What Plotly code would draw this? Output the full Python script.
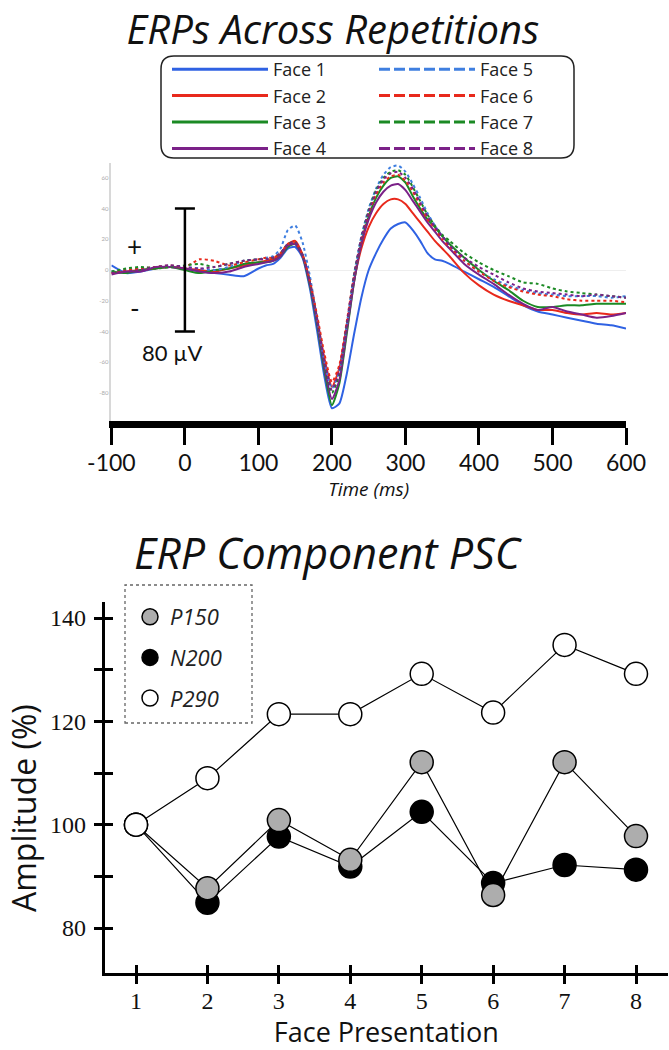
import plotly.graph_objects as go

# ---------------- data: ERP waveforms (µV) ----------------
TIME_MS = [-100, -80, -60, -40, -20, 0, 20, 40, 60, 80, 100,
           110, 120, 130, 140, 150, 160, 170, 180, 190, 200, 210, 220, 230, 240, 250,
           260, 270, 280, 290, 300, 310, 320, 330, 340, 350, 360,
           380, 400, 420, 440, 460, 480, 500, 520, 540, 560, 580, 600]

FACE1 = [3, -2, -1, 1, 2, 1, -1, -2, -3, -4, 1,
         3, 4, 8, 14, 15, 8, -12, -40, -70, -90, -87, -68, -42, -18, 0,
         11, 20, 27, 30, 31, 26, 19, 11, 7, 6, 4,
         -1, -6, -11, -17, -23, -27, -29, -31, -33, -35, -36, -38]
FACE2 = [-2, -1, 0, 1, 2, 1, 0, -1, 1, 3, 5,
         6, 7, 10, 17, 19, 10, -8, -32, -58, -76, -64, -36, -7, 14, 28,
         37, 43, 46, 46, 43, 37, 31, 25, 19, 14, 9,
         -2, -10, -16, -20, -23, -26, -26, -28, -29, -28, -29, -28]
FACE3 = [-1, -2, 0, 1, 2, 0, -2, 0, 1, 4, 5,
         5, 6, 9, 15, 17, 9, -10, -36, -66, -88, -74, -42, -8, 18, 35,
         47, 55, 60, 61, 57, 48, 40, 33, 28, 22, 17,
         8, 0, -7, -13, -20, -24, -24, -23, -23, -22, -22, -22]
FACE4 = [-3, -1, -1, 2, 2, 1, -1, -2, -1, 2, 4,
         5, 6, 9, 16, 17, 9, -9, -35, -64, -84, -72, -40, -8, 17, 33,
         44, 51, 55, 56, 52, 45, 38, 31, 25, 19, 14,
         4, -3, -9, -16, -22, -26, -24, -27, -29, -31, -30, -28]
FACE5 = [-1, 0, 1, 2, 3, 2, 1, 0, 2, 6, 7,
         8, 9, 14, 26, 29, 18, -4, -32, -60, -77, -66, -36, -3, 22, 40,
         53, 62, 67, 68, 64, 56, 47, 37, 29, 22, 16,
         6, -1, -6, -10, -13, -15, -16, -17, -17, -17, -18, -17]
FACE6 = [-2, 0, 1, 2, 3, 2, 7, 6, 3, 5, 7,
         8, 8, 11, 17, 18, 10, -7, -30, -55, -73, -62, -34, -4, 20, 37,
         49, 57, 61, 62, 58, 51, 42, 33, 27, 20, 15,
         6, -1, -7, -11, -14, -16, -17, -19, -20, -20, -20, -21]
FACE7 = [-1, 1, 2, 1, 2, 3, 4, 2, 4, 6, 7,
         7, 8, 11, 17, 18, 10, -8, -34, -62, -80, -68, -37, -4, 21, 39,
         52, 60, 64, 65, 62, 54, 45, 36, 29, 23, 19,
         11, 5, 0, -4, -8, -9, -12, -14, -15, -16, -17, -18]
FACE8 = [-2, -1, 0, 2, 3, 2, 1, 2, 4, 6, 7,
         7, 8, 11, 17, 18, 10, -8, -33, -60, -78, -66, -36, -4, 21, 38,
         51, 59, 63, 64, 60, 53, 44, 35, 28, 22, 16,
         8, 2, -3, -8, -12, -14, -15, -16, -17, -16, -17, -18]

FACE_NAMES = ["Face 1", "Face 2", "Face 3", "Face 4",
              "Face 5", "Face 6", "Face 7", "Face 8"]
FACE_SERIES = [FACE1, FACE2, FACE3, FACE4, FACE5, FACE6, FACE7, FACE8]

TIME_TICKS = [-100, 0, 100, 200, 300, 400, 500, 600]
TIME_TICK_LABELS = ["-100", "0", "100", "200", "300", "400", "500", "600"]
UV_TICKS = [-80, -60, -40, -20, 0, 20, 40, 60]
UV_TICK_LABELS = ["-80", "-60", "-40", "-20", "0", "20", "40", "60"]
SCALE_BAR_UV = 80

# ---------------- data: component PSC (%) ----------------
FACE_PRESENTATION = [1, 2, 3, 4, 5, 6, 7, 8]
P150 = [100, 87.7, 100.9, 93.2, 112.1, 86.4, 112.1, 97.8]
N200 = [100, 84.9, 97.7, 91.9, 102.5, 88.7, 92.2, 91.3]
P290 = [100, 109.0, 121.4, 121.4, 129.2, 121.7, 134.8, 129.2]
AMP_TICKS = [80, 90, 100, 110, 120, 130, 140]
AMP_TICK_LABELS = ["80", "", "100", "", "120", "", "140"]

# ---------------- styles ----------------
W, H = 669, 1050
FACE_COLORS = ["#2f62e3", "#e8291c", "#1b8a24", "#7b2188",
               "#3f7fe0", "#e8291c", "#1b8a24", "#7b2188"]
FONT = "Lato"
TFONT = "Open Sans"


def px(x):
    return x / W


def py(y):
    return 1 - y / H


fig = go.Figure()

# ERP waveforms
for i, (name, vals) in enumerate(zip(FACE_NAMES, FACE_SERIES)):
    fig.add_trace(go.Scatter(
        x=TIME_MS, y=vals, mode="lines", name=name, showlegend=False,
        line=dict(color=FACE_COLORS[i], width=2,
                  dash="solid" if i < 4 else "dot",
                  shape="spline", smoothing=0.6),
        xaxis="x", yaxis="y", hoverinfo="x+y+name"))

# legend entries (two columns)
for i, name in enumerate(FACE_NAMES):
    fig.add_trace(go.Scatter(
        x=[None], y=[None], mode="lines", name=name, showlegend=True,
        legend="legend" if i < 4 else "legend2",
        line=dict(color=FACE_COLORS[i], width=3,
                  dash="solid" if i < 4 else "11px,4px"),
        xaxis="x", yaxis="y"))

# 80 µV scale bar (error bar centred on 0 at t = 0)
fig.add_trace(go.Scatter(
    x=[0], y=[0], mode="markers", showlegend=False, hoverinfo="skip",
    marker=dict(size=2, color="rgba(0,0,0,0)"),
    error_y=dict(type="data", array=[SCALE_BAR_UV / 2], color="black",
                 thickness=2.5, width=10),
    xaxis="x", yaxis="y"))

# Component PSC
for name, vals, fill in [("N200", N200, "black"),
                         ("P150", P150, "#adadad"),
                         ("P290", P290, "white")]:
    fig.add_trace(go.Scatter(
        x=FACE_PRESENTATION, y=vals, mode="lines+markers", name=name,
        showlegend=False,
        line=dict(color="black", width=1.2),
        marker=dict(size=23, color=fill, line=dict(color="black", width=1.5)),
        xaxis="x2", yaxis="y2"))

for name, fill in [("P150", "#adadad"), ("N200", "black"), ("P290", "white")]:
    fig.add_trace(go.Scatter(
        x=[None], y=[None], mode="markers", name=name, legend="legend3",
        legendgroup=name, showlegend=True,
        marker=dict(size=23, color=fill, line=dict(color="black", width=1.5)),
        xaxis="x2", yaxis="y2"))

# empty trace on the overlay axes (cross ticks)
fig.add_trace(go.Scatter(x=[None], y=[None], mode="markers", showlegend=False,
                         hoverinfo="skip", xaxis="x3", yaxis="y3"))

x2_range = [0.559, 8.448]
y2_range = [71.3, 143.1]

fig.update_layout(
    width=W, height=H,
    margin=dict(l=0, r=0, t=0, b=0, pad=0, autoexpand=False),
    paper_bgcolor="white", plot_bgcolor="white",
    font=dict(family=FONT, color="#111"),
    title=dict(text="<i>ERPs Across Repetitions</i>", x=px(333), xanchor="center",
               y=py(30), yanchor="middle", yref="container",
               font=dict(family=TFONT, size=40, color="#111")),
    xaxis=dict(domain=[px(111.4), px(626)], range=[-100, 600], anchor="y",
               automargin=False,
               tickvals=TIME_TICKS, ticktext=TIME_TICK_LABELS,
               showline=True, linewidth=7, linecolor="black",
               ticks="outside", ticklen=17, tickwidth=3, tickcolor="black",
               ticklabelstandoff=-2,
               showgrid=False, zeroline=False,
               tickfont=dict(family=FONT, size=23, color="#111"),
               title=dict(text="<i>Time (ms)</i>", standoff=2,
                          font=dict(family=TFONT, size=19, color="#111"))),
    yaxis=dict(domain=[py(421), py(163)], range=[-98.3, 69.7], anchor="x",
               automargin=False,
               tickvals=UV_TICKS, ticktext=UV_TICK_LABELS,
               showline=True, linecolor="#d8d8d8", linewidth=1.5,
               ticks="", showgrid=False,
               zeroline=True, zerolinecolor="#eeeeee", zerolinewidth=1,
               tickfont=dict(family=FONT, size=6, color="#aaaaaa")),
    xaxis2=dict(domain=[px(104.5), px(668)], range=x2_range, anchor="y2",
                automargin=False,
                tickvals=FACE_PRESENTATION, showline=True, linewidth=2.5,
                linecolor="black", ticks="outside", ticklen=8, tickwidth=2.5,
                tickcolor="black", ticklabelstandoff=-4,
                showgrid=False, zeroline=False,
                tickfont=dict(family="Liberation Serif", size=24, color="#111"),
                title=dict(text="Face Presentation", standoff=6,
                           font=dict(family=TFONT, size=27, color="#111"))),
    yaxis2=dict(domain=[py(973), py(602)], range=y2_range, anchor="x2",
                automargin=False,
                tickvals=AMP_TICKS, ticktext=AMP_TICK_LABELS,
                showline=True, linewidth=2.5, linecolor="black",
                ticks="outside", ticklen=8, tickwidth=2.5, tickcolor="black",
                ticklabelstandoff=3,
                showgrid=False, zeroline=False,
                tickfont=dict(family="Liberation Serif", size=24, color="#111")),
    xaxis3=dict(overlaying="x2", anchor="y3", range=x2_range, automargin=False,
                tickvals=FACE_PRESENTATION, ticks="inside", ticklen=8,
                tickwidth=2.5, tickcolor="black", showticklabels=False,
                showline=False, showgrid=False, zeroline=False),
    yaxis3=dict(overlaying="y2", anchor="x3", range=y2_range, automargin=False,
                tickvals=AMP_TICKS, ticks="inside", ticklen=8,
                tickwidth=2.5, tickcolor="black", showticklabels=False,
                showline=False, showgrid=False, zeroline=False),
    legend=dict(x=px(167), y=py(51), xanchor="left", yanchor="top",
                font=dict(family=TFONT, size=18, color="#222"), itemwidth=96,
                bgcolor="rgba(0,0,0,0)", borderwidth=0, tracegroupgap=0),
    legend2=dict(x=px(374), y=py(51), xanchor="left", yanchor="top",
                 font=dict(family=TFONT, size=18, color="#222"), itemwidth=96,
                 bgcolor="rgba(0,0,0,0)", borderwidth=0, tracegroupgap=0),
    legend3=dict(x=px(130), y=py(596), xanchor="left", yanchor="top",
                 font=dict(family=TFONT, size=22, color="#222", style="italic"),
                 itemwidth=30, bgcolor="rgba(0,0,0,0)", borderwidth=0,
                 tracegroupgap=9),
)


def rounded_rect(x0, y0, x1, y1, r):
    X = lambda v: f"{px(v):.5f}"
    Y = lambda v: f"{py(v):.5f}"
    return (f"M {X(x0 + r)},{Y(y0)} L {X(x1 - r)},{Y(y0)} "
            f"Q {X(x1)},{Y(y0)} {X(x1)},{Y(y0 + r)} L {X(x1)},{Y(y1 - r)} "
            f"Q {X(x1)},{Y(y1)} {X(x1 - r)},{Y(y1)} L {X(x0 + r)},{Y(y1)} "
            f"Q {X(x0)},{Y(y1)} {X(x0)},{Y(y1 - r)} L {X(x0)},{Y(y0 + r)} "
            f"Q {X(x0)},{Y(y0)} {X(x0 + r)},{Y(y0)} Z")


fig.add_shape(type="path", xref="paper", yref="paper",
              path=rounded_rect(161, 56, 574, 158, 13),
              line=dict(color="#222", width=1.5))
fig.add_shape(type="rect", xref="paper", yref="paper",
              x0=px(125), x1=px(252), y0=py(723), y1=py(585),
              line=dict(color="#666", width=1.3, dash="dot"))

fig.add_annotation(text="<i>ERP Component PSC</i>", xref="paper", yref="paper",
                   x=px(328), y=py(552), showarrow=False,
                   font=dict(family=TFONT, size=43, color="#111"))
fig.add_annotation(text="Amplitude (%)", xref="paper", yref="paper",
                   x=px(23), y=py(808), xanchor="center", yanchor="middle",
                   textangle=-90, showarrow=False,
                   font=dict(family=TFONT, size=32, color="#111"))
fig.add_annotation(text="+", xref="x", yref="y", x=-68, y=15.6, showarrow=False,
                   font=dict(family=FONT, size=26, color="#111"))
fig.add_annotation(text="-", xref="x", yref="y", x=-68, y=-24.7, showarrow=False,
                   font=dict(family=FONT, size=26, color="#111"))
fig.add_annotation(text="80 µV", xref="x", yref="y", x=-17, y=-54, showarrow=False,
                   font=dict(family=FONT, size=22, color="#111"))

fig.write_html("out.html", config={"displayModeBar": False},
               post_script="document.body.style.margin='0px';")
